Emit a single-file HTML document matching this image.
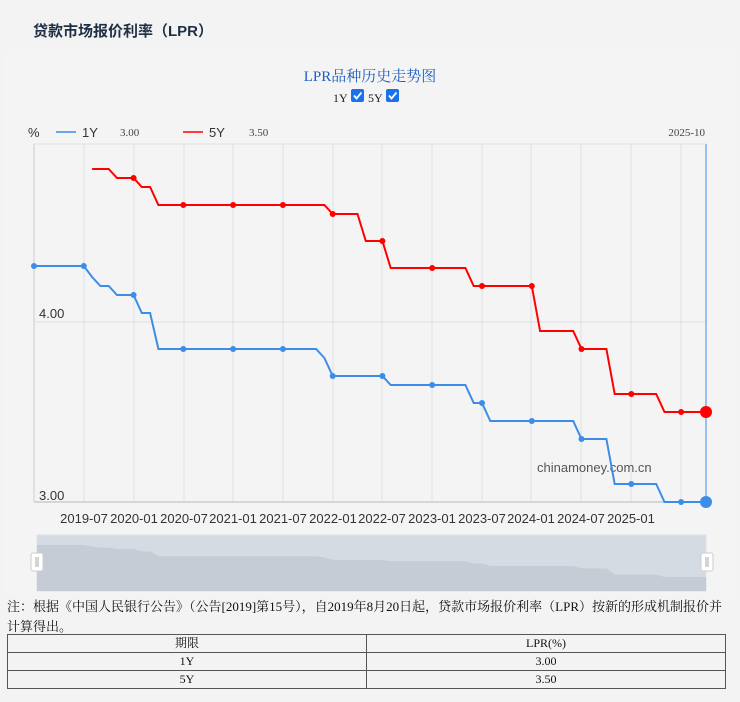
<!DOCTYPE html>
<html><head><meta charset="utf-8"><style>
body{margin:0;width:740px;height:702px;background:#f3f3f3;font-family:"Liberation Sans","Noto Sans CJK SC",sans-serif;position:relative;overflow:hidden}
.h{position:absolute;left:33px;top:20px;font-size:15px;font-weight:bold;color:#1f2f45}
.panel{position:absolute;left:5px;top:50px;width:730px;height:545px;background:#f4f4f4}
svg{position:absolute;left:0;top:0}
.note{position:absolute;left:7px;top:597px;width:725px;font-family:"Liberation Serif","Noto Serif CJK SC",serif;font-size:13px;line-height:20px;color:#111}
table{position:absolute;left:7px;top:634px;width:719px;border-collapse:collapse;font-family:"Liberation Serif","Noto Serif CJK SC",serif;font-size:12px;color:#111}
td{border:1px solid #555;text-align:center;height:17px;padding:0;line-height:17px}
</style></head><body>
<div class="h">贷款市场报价利率（LPR）</div>
<div class="panel"></div>
<svg width="740" height="600" xmlns="http://www.w3.org/2000/svg">
<text x="370" y="81" text-anchor="middle" font-family="Liberation Serif,Noto Serif CJK SC,serif" font-size="15" fill="#1e5fc0">LPR品种历史走势图</text>
<text x="333" y="102" font-family="Liberation Serif,serif" font-size="12" fill="#222">1Y</text>
<rect x="351" y="89" width="13" height="13" rx="2" fill="#1a73e8"/><path d="M354 95.5l2.5 3 5-6" stroke="#fff" stroke-width="1.8" fill="none"/>
<text x="368" y="102" font-family="Liberation Serif,serif" font-size="12" fill="#222">5Y</text>
<rect x="386" y="89" width="13" height="13" rx="2" fill="#1a73e8"/><path d="M389 95.5l2.5 3 5-6" stroke="#fff" stroke-width="1.8" fill="none"/>
<text x="28" y="137" font-size="13" fill="#333">%</text>
<line x1="56" y1="132" x2="76" y2="132" stroke="#3b8de8" stroke-width="1.5"/>
<text x="82" y="137" font-size="13" fill="#333">1Y</text>
<text x="120" y="136" font-family="Liberation Serif,serif" font-size="11" fill="#444">3.00</text>
<line x1="183" y1="132" x2="203" y2="132" stroke="#f00" stroke-width="1.5"/>
<text x="209" y="137" font-size="13" fill="#333">5Y</text>
<text x="249" y="136" font-family="Liberation Serif,serif" font-size="11" fill="#444">3.50</text>
<text x="705" y="136" text-anchor="end" font-family="Liberation Serif,serif" font-size="11" fill="#444">2025-10</text>
<g stroke="#dcdfe6" stroke-width="1">
<line x1="34" y1="144" x2="706" y2="144"/><line x1="34" y1="322" x2="706" y2="322"/>
<line x1="84" y1="144" x2="84" y2="502"/><line x1="134" y1="144" x2="134" y2="502"/><line x1="184" y1="144" x2="184" y2="502"/><line x1="233" y1="144" x2="233" y2="502"/><line x1="283" y1="144" x2="283" y2="502"/><line x1="333" y1="144" x2="333" y2="502"/><line x1="382" y1="144" x2="382" y2="502"/><line x1="432" y1="144" x2="432" y2="502"/><line x1="482" y1="144" x2="482" y2="502"/><line x1="531" y1="144" x2="531" y2="502"/><line x1="581" y1="144" x2="581" y2="502"/><line x1="631" y1="144" x2="631" y2="502"/><line x1="681" y1="144" x2="681" y2="502"/>
</g>
<line x1="34" y1="144" x2="34" y2="502" stroke="#c8ccd4"/>
<line x1="34" y1="502" x2="706" y2="502" stroke="#c8ccd4" stroke-width="1.5"/>
<line x1="706" y1="144" x2="706" y2="502" stroke="#3b8de8" stroke-width="1"/>
<text x="39" y="318" font-size="13" fill="#333">4.00</text>
<text x="39" y="500" font-size="13" fill="#333">3.00</text>
<text x="537" y="472" font-size="13" fill="#555">chinamoney.com.cn</text>
<polyline fill="none" stroke="#3b8de8" stroke-width="2" points="34,266 83.8,266 92.1,277 100.4,286 108.7,286 117,295 133.6,295 141.8,313 150.1,313 158.4,349 316.1,349 324.4,358 332.7,376 382.4,376 390.7,385 465.4,385 473.7,403 482,403 490.3,421 573.2,421 581.5,439 606.4,439 614.7,484 656.2,484 664.5,502 706,502"/>
<polyline fill="none" stroke="#f00" stroke-width="2" points="92.1,169 108.7,169 117,178 133.6,178 141.8,187 150.1,187 158.4,205 324.4,205 332.7,214 357.5,214 365.8,241 382.4,241 390.7,268 465.4,268 473.7,286 531.8,286 540.1,331 573.2,331 581.5,349 606.4,349 614.7,394 656.2,394 664.5,412 706,412"/>
<g fill="#3b8de8"><circle cx="34" cy="266" r="3"/><circle cx="83.8" cy="266" r="3"/><circle cx="133.6" cy="295" r="3"/><circle cx="183.3" cy="349" r="3"/><circle cx="233.1" cy="349" r="3"/><circle cx="282.9" cy="349" r="3"/><circle cx="332.7" cy="376" r="3"/><circle cx="382.4" cy="376" r="3"/><circle cx="432.2" cy="385" r="3"/><circle cx="482" cy="403" r="3"/><circle cx="531.8" cy="421" r="3"/><circle cx="581.5" cy="439" r="3"/><circle cx="631.3" cy="484" r="3"/><circle cx="681.1" cy="502" r="3"/><circle cx="706" cy="502" r="6"/></g>
<g fill="#f00"><circle cx="133.6" cy="178" r="3"/><circle cx="183.3" cy="205" r="3"/><circle cx="233.1" cy="205" r="3"/><circle cx="282.9" cy="205" r="3"/><circle cx="332.7" cy="214" r="3"/><circle cx="382.4" cy="241" r="3"/><circle cx="432.2" cy="268" r="3"/><circle cx="482" cy="286" r="3"/><circle cx="531.8" cy="286" r="3"/><circle cx="581.5" cy="349" r="3"/><circle cx="631.3" cy="394" r="3"/><circle cx="681.1" cy="412" r="3"/><circle cx="706" cy="412" r="6"/></g>
<g font-size="13" fill="#333" text-anchor="middle">
<text x="84" y="523">2019-07</text><text x="134" y="523">2020-01</text><text x="184" y="523">2020-07</text><text x="233" y="523">2021-01</text><text x="283" y="523">2021-07</text><text x="333" y="523">2022-01</text><text x="382" y="523">2022-07</text><text x="432" y="523">2023-01</text><text x="482" y="523">2023-07</text><text x="531" y="523">2024-01</text><text x="581" y="523">2024-07</text><text x="631" y="523">2025-01</text>
</g>
<rect x="37" y="535" width="669" height="56" fill="#d5dbe3" stroke="#dde2ea"/>
<g transform="translate(0,508.9) scale(1,0.1356)">
<polygon fill="#c6ccd6" points="37,266 83.8,266 92.1,277 100.4,286 108.7,286 117,295 133.6,295 141.8,313 150.1,313 158.4,349 316.1,349 324.4,358 332.7,376 382.4,376 390.7,385 465.4,385 473.7,403 482,403 490.3,421 573.2,421 581.5,439 606.4,439 614.7,484 656.2,484 664.5,502 706,502 706,605 37,605"/>
</g>
<rect x="31" y="553" width="12" height="18" rx="2" fill="#fff" stroke="#ccc"/><line x1="36" y1="557" x2="36" y2="567" stroke="#aaa"/><line x1="38" y1="557" x2="38" y2="567" stroke="#aaa"/>
<rect x="701" y="553" width="12" height="18" rx="2" fill="#fff" stroke="#ccc"/><line x1="706" y1="557" x2="706" y2="567" stroke="#aaa"/><line x1="708" y1="557" x2="708" y2="567" stroke="#aaa"/>
</svg>
<div class="note">注：根据《中国人民银行公告》（公告[2019]第15号），自2019年8月20日起，贷款市场报价利率（LPR）按新的形成机制报价并计算得出。</div>
<table>
<tr><td style="width:50%">期限</td><td>LPR(%)</td></tr>
<tr><td>1Y</td><td>3.00</td></tr>
<tr><td>5Y</td><td>3.50</td></tr>
</table>
</body></html>
